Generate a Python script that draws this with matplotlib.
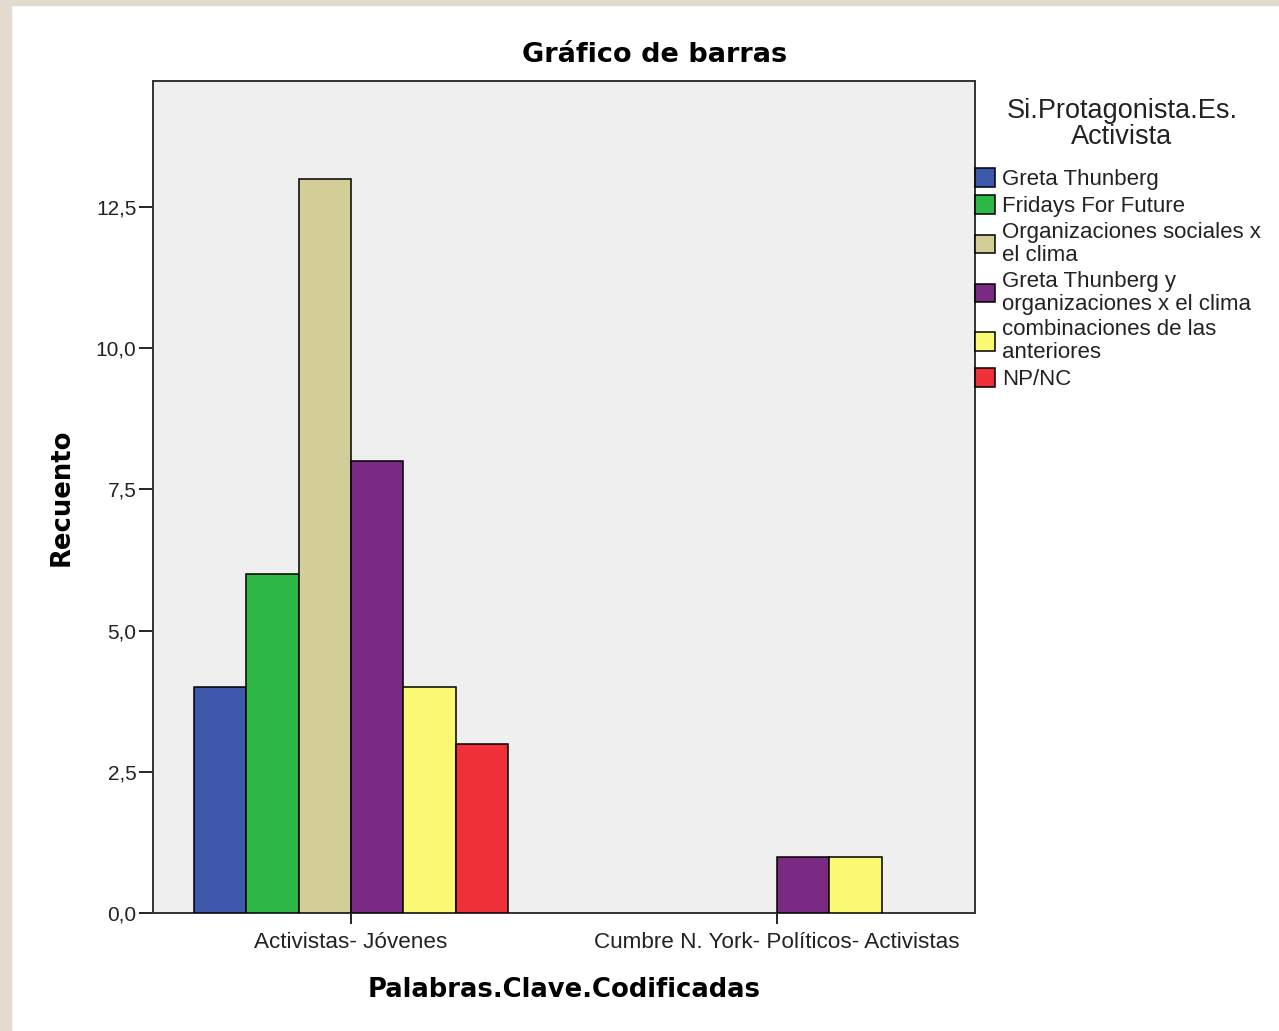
import matplotlib
matplotlib.use("Agg")
import matplotlib.pyplot as plt
import numpy as np
from matplotlib.patches import Patch, Rectangle
from matplotlib.ticker import FuncFormatter

categories = ["Activistas- Jóvenes", "Cumbre N. York- Políticos- Activistas"]
series = ["Greta Thunberg", "Fridays For Future", "Organizaciones sociales x\nel clima",
          "Greta Thunberg y\norganizaciones x el clima", "combinaciones de las\nanteriores", "NP/NC"]
values = [
    [4, 0],
    [6, 0],
    [13, 0],
    [8, 1],
    [4, 1],
    [3, 0],
]
colors = ["#3e58ac", "#2eb848", "#d3ce97", "#7b2a83", "#fbf873", "#ef3038"]
yticks = [0, 2.5, 5, 7.5, 10, 12.5]

W, H = 1279, 1031
fig = plt.figure(figsize=(W / 100, H / 100), dpi=100)
fig.patch.set_facecolor("white")
# beige page border
fig.patches.append(Rectangle((0, 0), 11 / W, 1, transform=fig.transFigure, color="#e3dad0", zorder=-10))
fig.patches.append(Rectangle((0, 1 - 5 / H), 1, 5 / H, transform=fig.transFigure, color="#e3dad0", zorder=-10))

ax = fig.add_axes([153 / W, 118 / H, (975 - 153) / W, (913 - 81) / H])
ax.set_facecolor("#efefef")

width = 0.123
n = len(series)
x = np.arange(len(categories))
for i, (s, vals, c) in enumerate(zip(series, values, colors)):
    offs = (i - (n - 1) / 2) * width
    for xi, v in zip(x, vals):
        if v > 0:
            ax.bar(xi + offs, v, width=width, color=c, edgecolor="black", linewidth=1.1, zorder=3)

ax.set_xlim(-0.465, 1.465)
ax.set_ylim(0, 14.73)
ax.set_yticks(yticks)
ax.yaxis.set_major_formatter(FuncFormatter(lambda v, p: f"{v:.1f}".replace(".", ",")))
ax.set_xticks(x)
ax.set_xticklabels(categories)
for lab in ax.get_xticklabels():
    lab.set_family("Liberation Sans")
    lab.set_fontsize(16.2)
    lab.set_color("#222222")
for lab in ax.get_yticklabels():
    lab.set_family("Liberation Sans")
    lab.set_fontsize(15)
    lab.set_color("#222222")
ax.tick_params(axis="y", length=10, width=1.2, pad=2)
ax.tick_params(axis="x", length=8, width=1.2, pad=6)
for sp in ax.spines.values():
    sp.set_linewidth(1.4)
    sp.set_color("#333333")

fig.text(655 / W, 1 - 55 / H, "Gráfico de barras", ha="center", va="center",
         fontsize=19.5, fontweight="bold", family="DejaVu Sans")
fig.text(564 / W, 1 - 990 / H, "Palabras.Clave.Codificadas", ha="center", va="center",
         fontsize=18.6, fontweight="bold", family="DejaVu Sans")
fig.text(62 / W, 1 - 497 / H, "Recuento", ha="center", va="center", rotation=90,
         fontsize=18.6, fontweight="bold", family="DejaVu Sans")

# legend title
fig.text(1122 / W, 1 - 124 / H, "Si.Protagonista.Es.\nActivista", ha="center", va="center",
         multialignment="center", linespacing=0.95, fontsize=19.5, family="Liberation Sans",
         color="#222222")

handles = [Patch(facecolor=c, edgecolor="black", linewidth=1.1) for c in colors]
leg = fig.legend(handles, series, loc="upper left", bbox_to_anchor=(975 / W, 1 - 168 / H),
                 bbox_transform=fig.transFigure, frameon=False, borderpad=0, borderaxespad=0,
                 handlelength=0.92, handleheight=0.92, handletextpad=0.3, labelspacing=0.22,
                 prop={"family": "Liberation Sans", "size": 16})
for t in leg.get_texts():
    t.set_linespacing(1.12)
    t.set_color("#222222")

fig.savefig("out.png", dpi=100)
